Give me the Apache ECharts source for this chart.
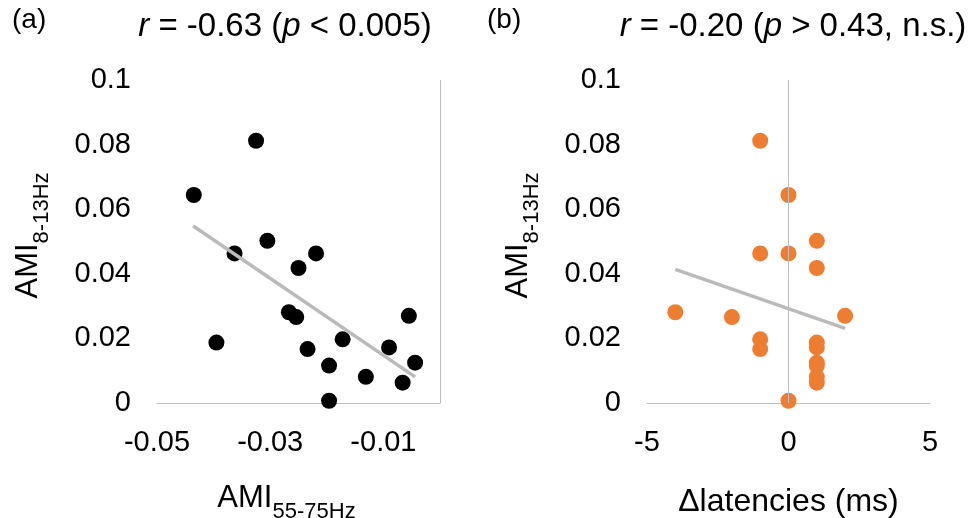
<!DOCTYPE html>
<html>
<head>
<meta charset="utf-8">
<script src="https://cdn.jsdelivr.net/npm/echarts@6/dist/echarts.min.js"></script>
<style>
  html, body { margin: 0; padding: 0; background: #fff; }
  #chart { width: 976px; height: 518px; }
</style>
</head>
<body>
<div id="chart"></div>
<script>
// Panel (a): gamma-band AMI against alpha-band AMI
const amiGamma = [-0.0435, -0.0325, -0.0395, -0.0363, -0.0305, -0.0250, -0.0219, -0.0267, -0.0254,
                  -0.0234, -0.0196, -0.0196, -0.0172, -0.0131, -0.0090, -0.0066, -0.0055, -0.0044];
const amiAlphaA = [0.0644, 0.0812, 0.0187, 0.0463, 0.0502, 0.0418, 0.0463, 0.0281, 0.0266,
                   0.0167, 0.0116, 0.0007, 0.0197, 0.0081, 0.0172, 0.0063, 0.0270, 0.0125];
const trendAX = [-0.0436, -0.0044];
const trendAY = [0.0548, 0.0081];

// Panel (b): latency differences against alpha-band AMI
const latencyDiff = [-1, 0, -1, 0, 1, 1, -4, -2, 2, -1, -1, 1, 1, 1, 1, 1, 1, 0];
const amiAlphaB = [0.0812, 0.0644, 0.0463, 0.0463, 0.0502, 0.0418, 0.0281, 0.0266, 0.0270,
                   0.0197, 0.0167, 0.0187, 0.0172, 0.0125, 0.0116, 0.0081, 0.0063, 0.0007];
const trendBX = [-4, 2];
const trendBY = [0.0414, 0.0231];

// Tick labels
const xTicksA = ['-0.05', '-0.03', '-0.01'];
const xTicksB = ['-5', '0', '5'];
const yTicks = ['0', '0.02', '0.04', '0.06', '0.08', '0.1'];

const FONT = '"Liberation Sans", Arial, sans-serif';
const AXIS_GRAY = '#bfbfbf';
const TREND_GRAY = '#bababa';
const ORANGE = '#ed7d31';

const zip = (xs, ys) => xs.map((x, i) => [x, ys[i]]);

const nameRich = {
  m: { fontFamily: FONT, fontSize: 31, color: '#000', lineHeight: 40, verticalAlign: 'top' },
  s: { fontFamily: FONT, fontSize: 22, color: '#000', lineHeight: 20, verticalAlign: 'bottom' }
};

function yAxisFor(gridIndex) {
  return {
    gridIndex, type: 'value', min: 0, max: 0.1, interval: 0.02,
    axisLine: { show: false }, axisTick: { show: false }, splitLine: { show: false },
    axisLabel: {
      fontFamily: FONT, fontSize: 29, color: '#000', margin: 26,
      formatter: v => {
        const s = yTicks.find(t => Math.abs(parseFloat(t) - v) < 1e-9);
        return s === undefined ? '' : s;
      }
    },
    name: '{m|AMI}{s|8-13Hz}',
    nameLocation: 'middle', nameRotate: 90, nameGap: 104,
    nameTextStyle: { rich: nameRich, padding: [0, 0, 0, 12] }
  };
}

function zeroLine(xAxisIndex, yAxisIndex) {
  return {
    type: 'line', xAxisIndex, yAxisIndex, data: [], silent: true, z: 1,
    markLine: {
      silent: true, symbol: ['none', 'none'], animation: false,
      label: { show: false },
      lineStyle: { color: AXIS_GRAY, width: 1, type: 'solid' },
      emphasis: { disabled: true },
      data: [{ xAxis: 0 }]
    }
  };
}

const titleRich = { i: { fontStyle: 'italic', fontFamily: FONT, fontSize: 33, fill: '#000' } };

const option = {
  animation: false,
  backgroundColor: '#fff',
  grid: [
    { left: 157, width: 283, top: 80, height: 323, outerBoundsMode: 'none', containLabel: false },
    { left: 647, width: 283, top: 80, height: 323, outerBoundsMode: 'none', containLabel: false }
  ],
  xAxis: [
    {
      gridIndex: 0, type: 'value', min: -0.05, max: 0, interval: 0.01,
      axisLine: { show: true, lineStyle: { color: AXIS_GRAY, width: 1 } },
      axisTick: { show: false }, splitLine: { show: false },
      axisLabel: {
        fontFamily: FONT, fontSize: 29, color: '#000', margin: 25,
        showMaxLabel: true, showMinLabel: true,
        formatter: v => {
          const s = v.toFixed(2);
          return xTicksA.includes(s) ? s : '';
        }
      },
      name: '{m|AMI}{s|55-75Hz}',
      nameLocation: 'middle', nameGap: 80,
      nameTextStyle: { rich: nameRich, padding: [0, 24, 0, 0] }
    },
    {
      gridIndex: 1, type: 'value', min: -5, max: 5, interval: 5,
      axisLine: { show: true, onZero: false, lineStyle: { color: AXIS_GRAY, width: 1 } },
      axisTick: { show: false }, splitLine: { show: false },
      axisLabel: {
        fontFamily: FONT, fontSize: 29, color: '#000', margin: 25,
        formatter: v => {
          const s = String(Math.round(v));
          return xTicksB.includes(s) ? s : '';
        }
      },
      name: 'Δlatencies (ms)',
      nameLocation: 'middle', nameGap: 79,
      nameTextStyle: { fontFamily: FONT, fontSize: 32, color: '#000', lineHeight: 40 }
    }
  ],
  yAxis: [yAxisFor(0), yAxisFor(1)],
  graphic: [
    { type: 'text', left: 12, top: 6, style: { text: '(a)', font: '28px ' + FONT, fill: '#000' } },
    { type: 'text', left: 487, top: 6, style: { text: '(b)', font: '28px ' + FONT, fill: '#000' } },
    {
      type: 'text', x: 285, y: 27,
      style: {
        text: '{i|r} = -0.63 ({i|p} < 0.005)', align: 'center', verticalAlign: 'middle',
        font: '33px ' + FONT, fill: '#000', rich: titleRich
      }
    },
    {
      type: 'text', x: 793, y: 27,
      style: {
        text: '{i|r} = -0.20 ({i|p} > 0.43, n.s.)', align: 'center', verticalAlign: 'middle',
        font: '33px ' + FONT, fill: '#000', rich: titleRich
      }
    }
  ],
  series: [
    zeroLine(0, 0),
    zeroLine(1, 1),
    {
      type: 'scatter', xAxisIndex: 0, yAxisIndex: 0, z: 3,
      symbol: 'circle', symbolSize: 16,
      itemStyle: { color: '#000', opacity: 1 },
      data: zip(amiGamma, amiAlphaA)
    },
    {
      type: 'line', xAxisIndex: 0, yAxisIndex: 0, z: 4,
      symbol: 'none', silent: true,
      lineStyle: { color: TREND_GRAY, width: 3.5 },
      data: zip(trendAX, trendAY)
    },
    {
      type: 'scatter', xAxisIndex: 1, yAxisIndex: 1, z: 3,
      symbol: 'circle', symbolSize: 16,
      itemStyle: { color: ORANGE, opacity: 1 },
      data: zip(latencyDiff, amiAlphaB)
    },
    {
      type: 'line', xAxisIndex: 1, yAxisIndex: 1, z: 4,
      symbol: 'none', silent: true,
      lineStyle: { color: TREND_GRAY, width: 3.5 },
      data: zip(trendBX, trendBY)
    }
  ]
};

const chart = echarts.init(document.getElementById('chart'), null, { renderer: 'canvas' });
chart.setOption(option);
</script>
</body>
</html>
